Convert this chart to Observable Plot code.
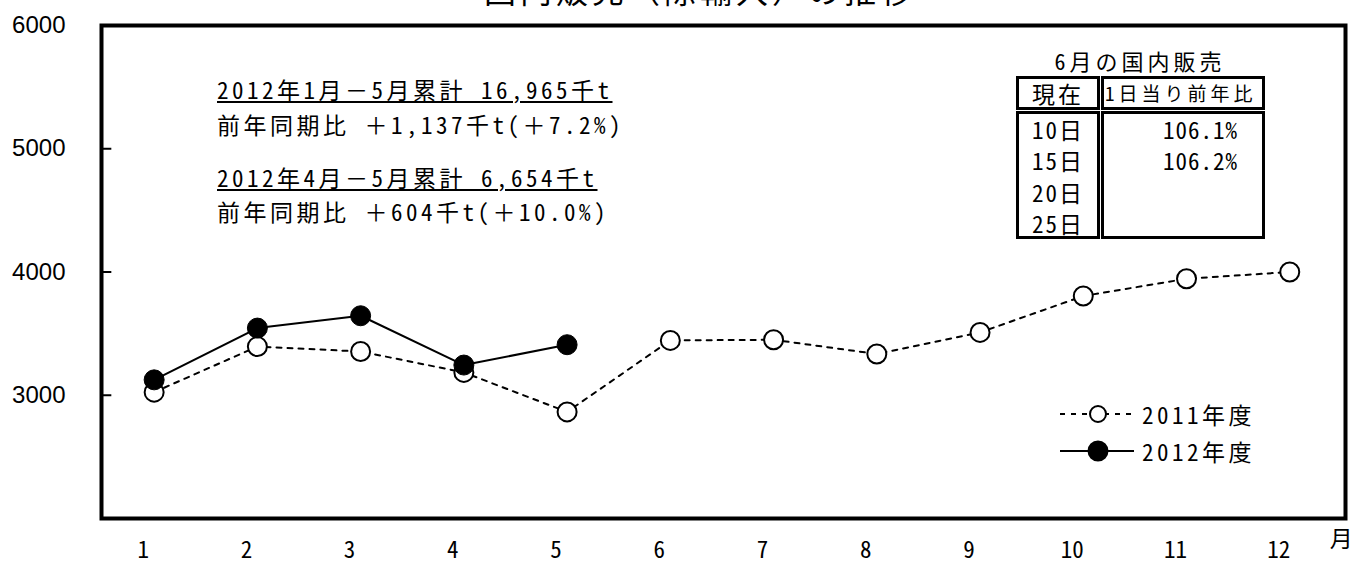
<!DOCTYPE html>
<html>
<head>
<meta charset="utf-8">
<script src="https://cdn.jsdelivr.net/npm/d3@7"></script>
<script src="https://cdn.jsdelivr.net/npm/@observablehq/plot@0.6"></script>
<style>
  html, body { margin: 0; padding: 0; background: #fff; }
  #wrap { position: relative; width: 1353px; height: 566px; overflow: hidden; background: #fff; }
  .jp { font-family: 'Noto Sans Mono CJK JP', 'Noto Sans CJK JP', sans-serif; color: #000; white-space: nowrap; }
  .abs { position: absolute; }
  .note { font-size: 23px; letter-spacing: 3.5px; line-height: 24px; }
  .ul { text-decoration: underline; text-decoration-thickness: 2px; text-underline-offset: 2px; }
  .box { position: absolute; border: 3px solid #000; box-sizing: border-box; }
</style>
</head>
<body>
<div id="wrap">
  <div id="chart" class="abs" style="left:0;top:0"></div>
  <div id="title" class="abs jp" style="left:0;width:1400px;top:-27px;text-align:center;font-size:32px;letter-spacing:4px;line-height:32px;"></div>
  <div id="notes"></div>
  <div id="table"></div>
  <div id="legend"></div>
</div>
<script>
// ---- data ----
const months = [1, 2, 3, 4, 5, 6, 7, 8, 9, 10, 11, 12];
const monthLabels = ["1", "2", "3", "4", "5", "6", "7", "8", "9", "10", "11", "12"];
const sales2011 = [3025, 3395, 3355, 3185, 2865, 3445, 3450, 3335, 3510, 3805, 3945, 4000];
const months2012 = [1, 2, 3, 4, 5];
const sales2012 = [3125, 3545, 3645, 3245, 3410];
const yTicks = [3000, 4000, 5000, 6000];
const seriesNames = ["2011年度", "2012年度"];
const titleText = "国内販売（除輸入）の推移";
const xUnit = "月";
const notes = [
  "2012年1月－5月累計 16,965千t",
  "前年同期比 ＋1,137千t(＋7.2%)",
  "2012年4月－5月累計 6,654千t",
  "前年同期比 ＋604千t(＋10.0%)"
];
const tableTitle = "6月の国内販売";
const tableHeader = ["現在", "1日当り前年比"];
const tableDays = ["10日", "15日", "20日", "25日"];
const tableValues = ["106.1%", "106.2%", "", ""];

// ---- tables built from the arrays ----
const d2011 = months.map((m, i) => ({month: m, value: sales2011[i]}));
const d2012 = months2012.map((m, i) => ({month: m, value: sales2012[i]}));

const monoFont = "'Noto Sans Mono CJK JP', 'Noto Sans CJK JP', sans-serif";
const xDomain = [0.49, 12.54];
const innerTicks = yTicks.filter(t => t < 6000);

const chart = Plot.plot({
  width: 1353,
  height: 566,
  marginTop: 25,
  marginBottom: 48,
  marginLeft: 101,
  marginRight: 8,
  style: {background: "transparent", color: "#000", overflow: "visible"},
  x: {domain: xDomain},
  y: {domain: [2000, 6000]},
  marks: [
    Plot.ruleY(innerTicks, {x1: xDomain[0], x2: xDomain[0] + 0.1, stroke: "#000", strokeWidth: 2}),
    Plot.axisY({ticks: yTicks, tickSize: 0, tickPadding: 36, fontSize: 24, fontFamily: "'Liberation Sans', Arial, sans-serif", tickFormat: d3.format("d"), label: null}),
    Plot.axisX({ticks: months, tickSize: 0, tickPadding: 23, dx: -11, fontSize: 23, fontFamily: monoFont, tickFormat: (d, i) => monthLabels[i], label: null}),
    Plot.text([xUnit], {x: () => 12.5, frameAnchor: "bottom", dy: 28, fontSize: 23, fontFamily: monoFont, text: d => d}),
    Plot.line(d2011, {x: "month", y: "value", stroke: "#000", strokeWidth: 2, strokeDasharray: "5,6"}),
    Plot.dot(d2011, {x: "month", y: "value", r: 9.5, fill: "#fff", stroke: "#000", strokeWidth: 2}),
    Plot.line(d2012, {x: "month", y: "value", stroke: "#000", strokeWidth: 2}),
    Plot.dot(d2012, {x: "month", y: "value", r: 10, fill: "#000", stroke: "#000", strokeWidth: 1}),
    Plot.frame({stroke: "#000", strokeWidth: 4})
  ]
});
document.getElementById("chart").appendChild(chart);
document.getElementById("title").textContent = titleText;

// ---- notes ----
const notePos = [77, 112, 165, 199];
const notesEl = document.getElementById("notes");
notes.forEach((t, i) => {
  const d = document.createElement("div");
  d.className = "abs jp note" + (i % 2 === 0 ? " ul" : "");
  d.style.left = "217px";
  d.style.top = notePos[i] + "px";
  d.textContent = t;
  notesEl.appendChild(d);
});

// ---- table ----
const tbl = document.getElementById("table");
function addBox(l, t, w, h) {
  const b = document.createElement("div");
  b.className = "box";
  Object.assign(b.style, {left: l + "px", top: t + "px", width: w + "px", height: h + "px"});
  tbl.appendChild(b);
}
function addText(txt, l, t, w, align, size, ls) {
  const d = document.createElement("div");
  d.className = "abs jp";
  Object.assign(d.style, {left: l + "px", top: t + "px", width: w + "px", textAlign: align,
    fontSize: size + "px", letterSpacing: ls + "px", lineHeight: "30px", height: "30px"});
  d.textContent = txt;
  tbl.appendChild(d);
}
addBox(1016, 76, 84, 34);
addBox(1101, 76, 164, 34);
addBox(1016, 111, 84, 128);
addBox(1101, 111, 164, 128);
addText(tableTitle, 1040, 45, 200, "center", 22, 4);
addText(tableHeader[0], 1016, 78, 84, "center", 23, 3);
addText(tableHeader[1], 1105, 78, 160, "left", 19, 4);
tableDays.forEach((d, i) => {
  addText(d, 1016, 114 + i * 31.3, 84, "center", 23, 2);
  addText(tableValues[i], 1101, 114 + i * 31.3, 137, "right", 23, 1);
});

// ---- legend ----
const leg = document.getElementById("legend");
const rows = [{y: 414, dash: "5,6", fill: "#fff", r: 8}, {y: 451, dash: null, fill: "#000", r: 9.5}];
rows.forEach((row, i) => {
  const svg = d3.create("svg").attr("width", 76).attr("height", 30)
    .style("position", "absolute").style("left", "1059px").style("top", (row.y - 15) + "px");
  svg.append("line").attr("x1", 1).attr("x2", 75).attr("y1", 15).attr("y2", 15)
    .attr("stroke", "#000").attr("stroke-width", 2).attr("stroke-dasharray", row.dash);
  svg.append("circle").attr("cx", 39).attr("cy", 15).attr("r", row.r)
    .attr("fill", row.fill).attr("stroke", "#000").attr("stroke-width", 2);
  leg.appendChild(svg.node());
  const t = document.createElement("div");
  t.className = "abs jp note";
  Object.assign(t.style, {left: "1142px", top: (row.y - 15) + "px", lineHeight: "30px"});
  t.textContent = seriesNames[i];
  leg.appendChild(t);
});
</script>
</body>
</html>
